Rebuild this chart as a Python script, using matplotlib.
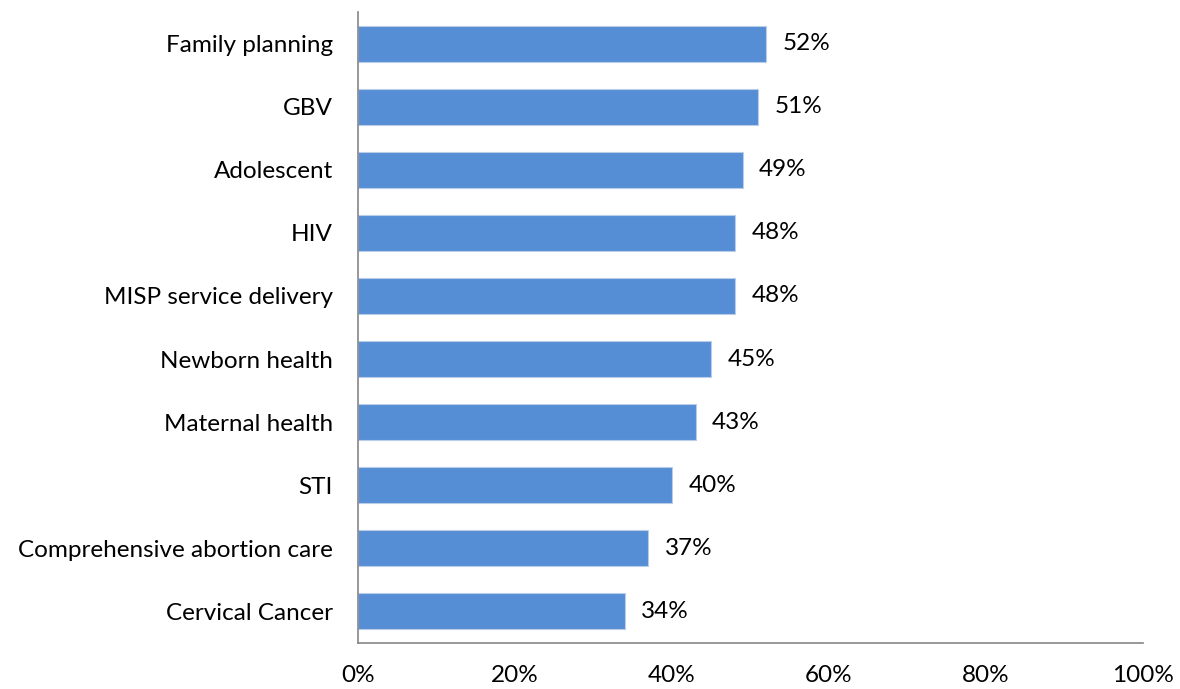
import matplotlib.pyplot as plt

categories = ['Family planning', 'GBV', 'Adolescent', 'HIV', 'MISP service delivery',
              'Newborn health', 'Maternal health', 'STI', 'Comprehensive abortion care',
              'Cervical Cancer']
values = [52, 51, 49, 48, 48, 45, 43, 40, 37, 34]
xticks = [0, 20, 40, 60, 80, 100]

plt.rcParams['font.family'] = ['Lato', 'DejaVu Sans']

fig = plt.figure(figsize=(11.8, 6.89), dpi=100)
ax = fig.add_axes([0.3034, 0.0668, 0.6653, 0.9158])

ypos = list(range(len(categories)))
ax.barh(ypos, values, height=0.57, color='#558ed5', edgecolor='#b9cde9', linewidth=0.8)
ax.set_ylim(len(categories) - 0.5, -0.5)
ax.set_xlim(0, 100)

for y, v in zip(ypos, values):
    ax.text(v + 2.1, y, f'{v}%', va='center', ha='left', fontsize=17.5, color='black')

ax.set_yticks(ypos)
ax.set_yticklabels(categories, fontsize=17.5)
ax.set_xticks(xticks)
ax.set_xticklabels([f'{t}%' for t in xticks], fontsize=17.5)
ax.tick_params(axis='y', length=0, pad=18)
ax.tick_params(axis='x', length=0, pad=16)

for side in ['top', 'right']:
    ax.spines[side].set_visible(False)
for side in ['left', 'bottom']:
    ax.spines[side].set_color('#868686')
    ax.spines[side].set_linewidth(1.2)

fig.savefig('out.png', dpi=100)
